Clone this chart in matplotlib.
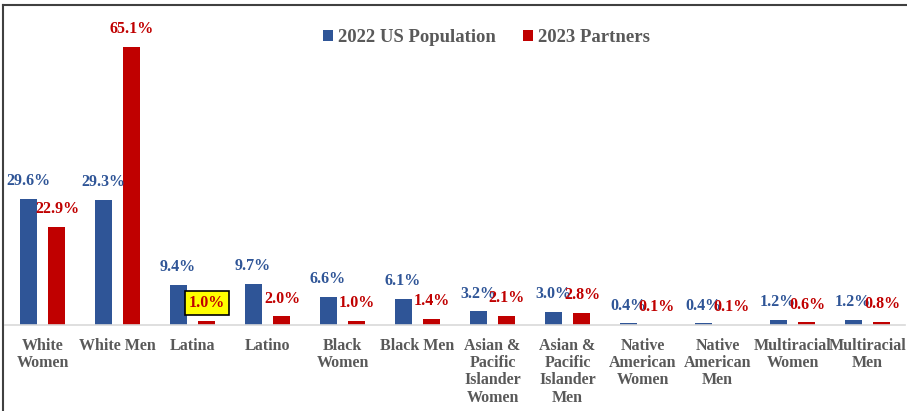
import matplotlib
matplotlib.use("Agg")
import matplotlib.pyplot as plt
from matplotlib.lines import Line2D
import numpy as np

categories = ["White\nWomen", "White Men", "Latina", "Latino", "Black\nWomen", "Black Men",
              "Asian &\nPacific\nIslander\nWomen", "Asian &\nPacific\nIslander\nMen",
              "Native\nAmerican\nWomen", "Native\nAmerican\nMen",
              "Multiracial\nWomen", "Multiracial\nMen"]
us_pop_2022 = [29.6, 29.3, 9.4, 9.7, 6.6, 6.1, 3.2, 3.0, 0.4, 0.4, 1.2, 1.2]
partners_2023 = [22.9, 65.1, 1.0, 2.0, 1.0, 1.4, 2.1, 2.8, 0.1, 0.1, 0.6, 0.8]
series_names = ["2022 US Population", "2023 Partners"]

BLUE = "#2F5597"
RED = "#C00000"
GRAY = "#595959"
FONT = "Liberation Serif"

W, H = 907, 411
fig = plt.figure(figsize=(W / 100, H / 100), dpi=100)
ax = fig.add_axes([5 / W, (H - 325) / H, 900 / W, (325 - 26) / H])

x = np.arange(len(categories))
bw = 0.227
off = 0.193
ax.bar(x - off, us_pop_2022, bw, color=BLUE, label=series_names[0])
ax.bar(x + off, partners_2023, bw, color=RED, label=series_names[1])

ax.set_xlim(-0.5, len(categories) - 0.5)
ax.set_ylim(0, 70)

for xi, v in zip(x - off, us_pop_2022):
    ax.annotate(f"{v:.1f}%", (xi, v), xytext=(0, 7), textcoords="offset points",
                ha="center", va="bottom", color=BLUE, fontsize=11.5,
                fontweight="bold", family=FONT)
for i, (xi, v) in enumerate(zip(x + off, partners_2023)):
    kw = {}
    if i == 2:
        kw["bbox"] = dict(boxstyle="square,pad=0.25", fc="#FFFF00", ec="black", lw=1.2)
    ax.annotate(f"{v:.1f}%", (xi, v), xytext=(0, 7), textcoords="offset points",
                ha="center", va="bottom", color=RED, fontsize=11.5,
                fontweight="bold", family=FONT, **kw)

for s in ["top", "right", "left"]:
    ax.spines[s].set_visible(False)
ax.spines["bottom"].set_color("#D9D9D9")
ax.spines["bottom"].set_linewidth(1.2)
ax.set_yticks([])
ax.set_xticks(x)
ax.set_xticklabels(categories, fontsize=11.5, fontweight="bold", family=FONT,
                   color=GRAY, linespacing=1.12)
ax.tick_params(axis="x", length=0, pad=9)

leg = ax.legend(loc="upper center", bbox_to_anchor=(0.535, 1.045), ncol=2, frameon=False,
                prop={"family": FONT, "weight": "bold", "size": 13.5},
                handlelength=0.55, handleheight=0.55, handletextpad=0.3, columnspacing=1.4)
for t in leg.get_texts():
    t.set_color(GRAY)

# outer frame (partially cropped in reference)
fig.add_artist(Line2D([3 / W, 3 / W], [0, 1 - 5 / H], color="#404040", lw=1.5,
                      transform=fig.transFigure))
fig.add_artist(Line2D([3 / W, 1], [1 - 5 / H, 1 - 5 / H], color="#404040", lw=1.5,
                      transform=fig.transFigure))

fig.savefig("out.png", dpi=100, facecolor="white")
